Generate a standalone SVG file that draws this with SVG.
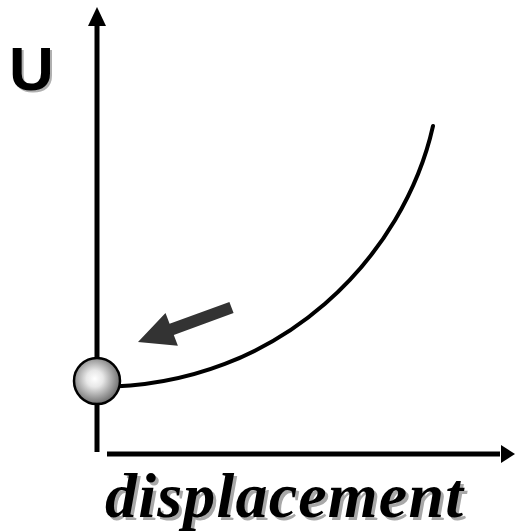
<svg xmlns="http://www.w3.org/2000/svg" width="515" height="531" viewBox="0 0 515 531">
<defs>
<radialGradient id="ball" cx="0.45" cy="0.45" r="0.6">
<stop offset="0" stop-color="#ffffff"/>
<stop offset="0.3" stop-color="#e8e8e8"/>
<stop offset="1" stop-color="#5e5e5e"/>
</radialGradient>
<style>
.ax{stroke:#000;stroke-width:5;fill:none}
.lbl{font-weight:bold}
</style>
</defs>
<rect width="515" height="531" fill="#fff"/>
<g id="connectors">
<line class="ax" x1="97" y1="452" x2="97" y2="22"/>
<polygon points="97,7 88,26 106,26" fill="#000"/>
<line class="ax" x1="107" y1="454" x2="500" y2="454"/>
<polygon points="515,454 501,445 501,463" fill="#000"/>
<path d="M97,387 C285,387 405,252 433,126" fill="none" stroke="#000" stroke-width="4" stroke-linecap="round"/>
<polygon points="138,342 177.9,345.7 173.8,334.9 233.6,313.1 229.4,301.9 169.6,323.7 165.5,312.9" fill="#333"/>
</g>
<g id="ball-node">
<circle cx="97" cy="381" r="23" fill="url(#ball)" stroke="#000" stroke-width="2.5"/>
</g>
<g id="label-U">
<text x="11" y="92" font-family="Liberation Sans, Arial, sans-serif" font-size="62" class="lbl" fill="#b0b0b0">U</text>
<text x="9" y="90" font-family="Liberation Sans, Arial, sans-serif" font-size="62" class="lbl" fill="#000">U</text>
</g>
<g id="label-displacement">
<text x="108" y="520" font-family="Liberation Serif, Times New Roman, serif" font-size="64" font-style="italic" class="lbl" fill="#a8a8a8" textLength="358" lengthAdjust="spacing">displacement</text>
<text x="105" y="517" font-family="Liberation Serif, Times New Roman, serif" font-size="64" font-style="italic" class="lbl" fill="#000" textLength="358" lengthAdjust="spacing">displacement</text>
</g>
</svg>
